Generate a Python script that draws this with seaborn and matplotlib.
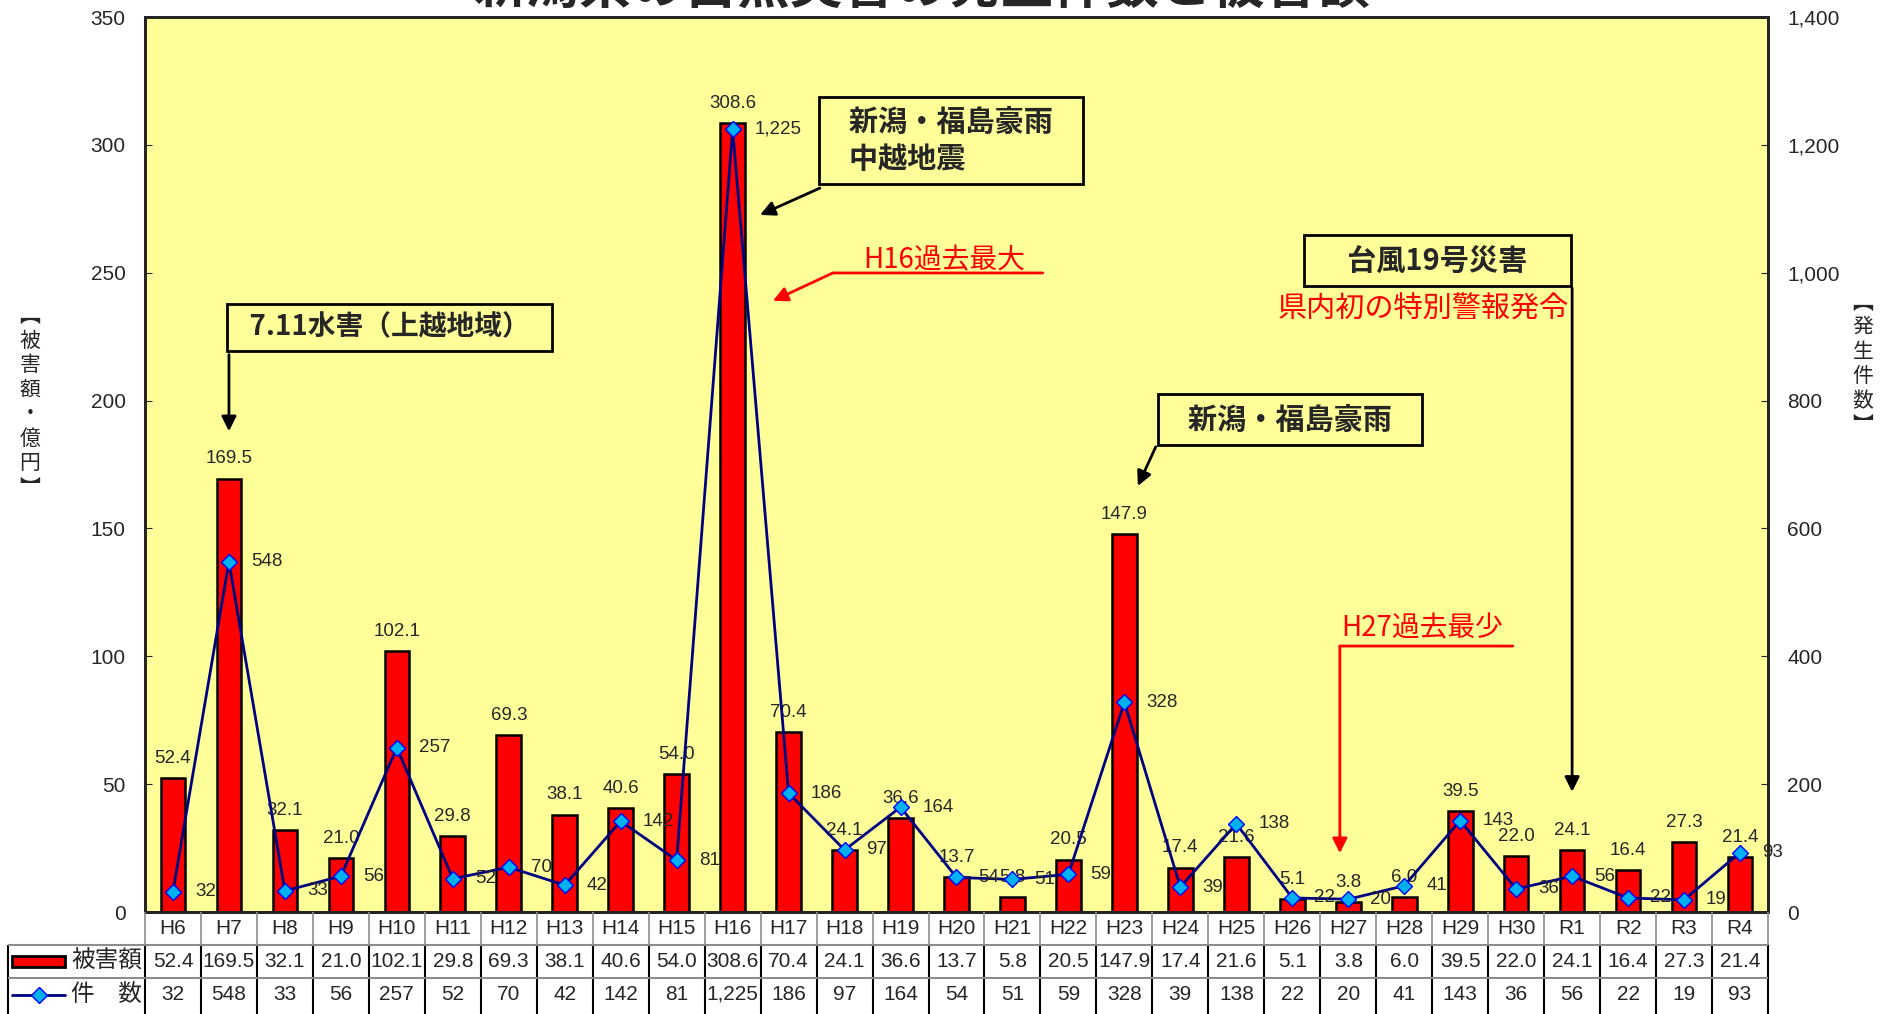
import numpy as np
import pandas as pd
import matplotlib
matplotlib.use("Agg")
import matplotlib.pyplot as plt
import matplotlib.patches as mpatches
from matplotlib.ticker import FuncFormatter, MultipleLocator
import seaborn as sns

# ---- data ----
years = ["H6", "H7", "H8", "H9", "H10", "H11", "H12", "H13", "H14", "H15",
         "H16", "H17", "H18", "H19", "H20", "H21", "H22", "H23", "H24", "H25",
         "H26", "H27", "H28", "H29", "H30", "R1", "R2", "R3", "R4"]
damage = [52.4, 169.5, 32.1, 21.0, 102.1, 29.8, 69.3, 38.1, 40.6, 54.0,
          308.6, 70.4, 24.1, 36.6, 13.7, 5.8, 20.5, 147.9, 17.4, 21.6,
          5.1, 3.8, 6.0, 39.5, 22.0, 24.1, 16.4, 27.3, 21.4]
counts = [32, 548, 33, 56, 257, 52, 70, 42, 142, 81,
          1225, 186, 97, 164, 54, 51, 59, 328, 39, 138,
          22, 20, 41, 143, 36, 56, 22, 19, 93]
title = "新潟県の自然災害の発生件数と被害額"
row_labels = ["被害額", "件\u3000数"]

sns.set_style("white")
plt.rcParams["font.family"] = ["Liberation Sans", "Noto Sans CJK JP", "DejaVu Sans"]
JP = ["Noto Sans CJK JP", "DejaVu Sans"]
NARROW = ["Liberation Sans Narrow", "Liberation Sans", "Noto Sans CJK JP"]

W, H = 1890, 1014
X0, X1, YT, YB = 145, 1768, 17, 912
fig = plt.figure(figsize=(W / 100, H / 100), dpi=100)
ax = fig.add_axes([X0 / W, 1 - YB / H, (X1 - X0) / W, (YB - YT) / H])
ax.set_facecolor("#FFFF99")

df = pd.DataFrame({"year": years, "damage": damage, "count": counts})
sns.barplot(data=df, x="year", y="damage", color="#FF0000", saturation=1,
            edgecolor="black", linewidth=1.8, width=0.44, ax=ax)
ax.bar_label(ax.containers[0], labels=[f"{v:.1f}" for v in damage],
             padding=8, fontsize=13.5)
ax.set_xlim(-0.5, len(years) - 0.5)
ax.set_ylim(0, 350)
ax.yaxis.set_major_locator(MultipleLocator(50))
ax.set_xlabel("")
ax.set_ylabel("")
ax.tick_params(axis="x", bottom=False, labelbottom=False)
ax.tick_params(axis="y", direction="in", length=5, pad=14, labelsize=15)
for t in ax.get_yticklabels():
    t.set_family(NARROW)
for s in ax.spines.values():
    s.set_linewidth(2)
    s.set_color("black")

ax2 = ax.twinx()
sns.lineplot(x=np.arange(len(years)), y=counts, ax=ax2, color="#000080",
             linewidth=2, marker="D", markersize=8, markerfacecolor="#00B0F0",
             markeredgecolor="#0000FF", markeredgewidth=1)
for i, c in enumerate(counts):
    ax2.annotate(f"{c:,}", (i, c), xytext=(22, 0), textcoords="offset pixels",
                 ha="left", va="center", fontsize=13.5)
ax2.set_ylim(0, 1400)
ax2.yaxis.set_major_locator(MultipleLocator(200))
ax2.yaxis.set_major_formatter(FuncFormatter(lambda v, p: f"{int(v):,}"))
ax2.tick_params(axis="y", direction="in", length=5, pad=14, labelsize=15)
for t in ax2.get_yticklabels():
    t.set_family(NARROW)
for s in ax2.spines.values():
    s.set_linewidth(2)
ax2.set_ylabel("")

# ---- annotations (left-axis data coords) ----
T = ax.transData
box = dict(boxstyle="square,pad=0.35", fc="#FFFF99", ec="black", lw=2)
black_arrow = dict(arrowstyle="-|>", color="black", lw=2, mutation_scale=22,
                   shrinkA=0, shrinkB=0)
red_arrow = dict(arrowstyle="-|>", color="red", lw=2, mutation_scale=22,
                 shrinkA=0, shrinkB=0)
red_line = dict(arrowstyle="-", color="red", lw=2, shrinkA=0, shrinkB=0)

ax2.text(3.87, 228.6, "  7.11水害（上越地域）  ", transform=T, ha="center",
         va="center", fontsize=20, fontweight="bold", family=JP, bbox=box)
ax2.annotate("", xy=(1.0, 188), xytext=(1.0, 218), xycoords=T,
             arrowprops=black_arrow)

ax2.text(11.72, 301.7, "   新潟・福島豪雨   \n   中越地震", transform=T, ha="left",
         va="center", fontsize=21, fontweight="bold", family=JP,
         linespacing=1.3, bbox=box)
ax2.annotate("", xy=(10.49, 272.6), xytext=(11.56, 283.1), xycoords=T,
             arrowprops=black_arrow)

ax2.text(13.78, 255, "H16過去最大", transform=T, ha="center", va="center",
         fontsize=20, color="red", family=JP)
ax2.annotate("", xy=(15.54, 249.9), xytext=(11.79, 249.9), xycoords=T,
             arrowprops=red_line)
ax2.annotate("", xy=(10.72, 239), xytext=(11.79, 249.9), xycoords=T,
             arrowprops=red_arrow)

ax2.text(19.96, 192.6, "   新潟・福島豪雨   ", transform=T, ha="center",
         va="center", fontsize=21, fontweight="bold", family=JP, bbox=box)
ax2.annotate("", xy=(17.24, 166.6), xytext=(17.56, 181.9), xycoords=T,
             arrowprops=black_arrow)

ax2.text(22.59, 254.8, "     台風19号災害     ", transform=T, ha="center",
         va="center", fontsize=21, fontweight="bold", family=JP, bbox=box)
ax2.annotate("", xy=(25.0, 47), xytext=(25.0, 244), xycoords=T,
             arrowprops=black_arrow)
ax2.text(22.33, 235.4, "県内初の特別警報発令", transform=T, ha="center",
         va="center", fontsize=21, color="red", family=JP)

ax2.text(22.32, 111, "H27過去最少", transform=T, ha="center", va="center",
         fontsize=20, color="red", family=JP)
ax2.annotate("", xy=(23.94, 104), xytext=(20.85, 104), xycoords=T,
             arrowprops=red_line)
ax2.annotate("", xy=(20.85, 23), xytext=(20.85, 104), xycoords=T,
             arrowprops=red_arrow)

# ---- data table below the plot ----
TL = 8
unit = (X1 - X0) / len(years)
tab = fig.add_axes([TL / W, 0, (X1 - TL) / W, (H - YB) / H])
left = -0.5 - (X0 - TL) / unit
rowh = 33
tab.set_xlim(left, len(years) - 0.5)
tab.set_ylim((H - YB) / rowh, 0)
tab.axis("off")
edges = np.arange(len(years) + 1) - 0.5
tab.vlines(edges, 0, 1, colors="#8c8c8c", lw=1.2, clip_on=False)
tab.vlines(edges, 1, 3.2, colors="black", lw=1.5, clip_on=False)
tab.vlines([left], 1, 3.2, colors="black", lw=1.5, clip_on=False)
tab.hlines([1, 2], left, len(years) - 0.5, colors="#8c8c8c", lw=1.5, clip_on=False)
for i in range(len(years)):
    tab.text(i, 0.5, years[i], ha="center", va="center", fontsize=15, family=NARROW)
    tab.text(i, 1.5, f"{damage[i]:.1f}", ha="center", va="center", fontsize=15, family=NARROW)
    tab.text(i, 2.5, f"{counts[i]:,}", ha="center", va="center", fontsize=15, family=NARROW)
# legend keys
tab.add_patch(mpatches.Rectangle((left + 0.07, 1.32), 0.95, 0.34, fc="red",
                                 ec="black", lw=2, clip_on=False))
tab.plot([left + 0.07, left + 1.02], [2.5, 2.5], color="#000080", lw=2, clip_on=False)
tab.plot([left + 0.545], [2.5], marker="D", ms=8, mfc="#00B0F0", mec="#0000FF",
         clip_on=False)
for r, lab in enumerate(row_labels):
    tab.text(left + 1.13, 1.5 + r, lab, ha="left", va="center", fontsize=17, family=JP)

# ---- titles / axis labels ----
fig.text(922 / W, 1 - 14 / H, title, ha="center", va="bottom", fontsize=38,
         fontweight="bold", family=JP)
fig.text(30 / W, 1 - 402 / H, "︻\n被\n害\n額\n・\n億\n円\n︼", ha="center",
         va="center", fontsize=15, family=JP, linespacing=1.15)
fig.text(1863 / W, 1 - 364 / H, "︻\n発\n生\n件\n数\n︼", ha="center",
         va="center", fontsize=15, family=JP, linespacing=1.15)

fig.savefig("out.png", dpi=100)
